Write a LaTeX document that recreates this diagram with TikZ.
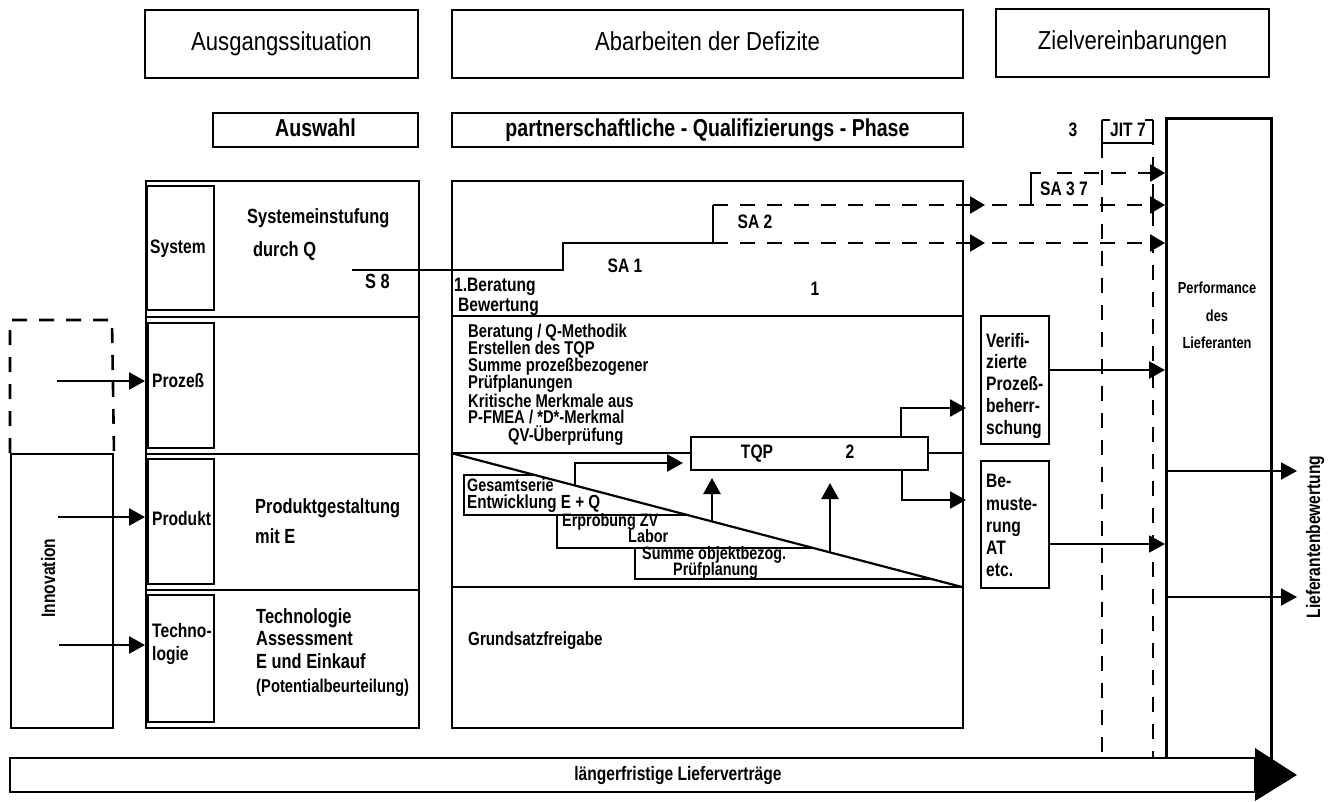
\documentclass[tikz,border=0pt]{standalone}
\usepackage{fontspec}
\setmainfont{Liberation Sans}[FakeStretch=0.85, BoldFeatures={FakeStretch=0.8}]
\usetikzlibrary{arrows.meta}

\begin{document}
\begin{tikzpicture}[x=1pt,y=-1pt,
  frame/.style={draw, line width=2pt, inner sep=0pt, anchor=north west},
  heavy/.style={draw, line width=3pt, inner sep=0pt, anchor=north west},
  rule/.style={line width=2pt},
  hd/.style={font=\fontsize{26}{30}\selectfont},
  sub/.style={font=\bfseries\fontsize{24.5}{28}\selectfont},
  tx/.style={font=\bfseries\fontsize{19.5}{22}\selectfont, inner sep=0pt, text height=14pt, text depth=4pt},
  tb/.style={font=\bfseries\fontsize{20.5}{23}\selectfont, inner sep=0pt, text height=14.5pt, text depth=4pt, anchor=west},
  sm/.style={font=\bfseries\fontsize{18.5}{16.7}\selectfont, inner sep=0pt, text height=13pt, text depth=3.5pt, anchor=west},
  st/.style={font=\bfseries\fontsize{18}{16}\selectfont, inner sep=0pt, text height=12.5pt, text depth=3.5pt, anchor=west},
  pf/.style={font=\bfseries\fontsize{16}{19}\selectfont, inner sep=0pt},
  lw/.style={tx, anchor=west},
  flow/.style={line width=2.6pt, -{Triangle[length=16pt,width=17pt]}},
  thinflow/.style={line width=1.8pt, -{Triangle[length=16pt,width=17pt]}},
  stepline/.style={line width=2.8pt},
  dashline/.style={line width=2.6pt, dash pattern=on 15pt off 12pt},
  dashflow/.style={dashline, -{Triangle[length=15pt,width=17pt]}},
  stair/.style={line width=2.4pt}
]
\useasboundingbox (0,0) rectangle (1328,801);

% ---------- column headers ----------
\node[frame, hd, minimum width=273, minimum height=68] (hAus) at (144,9) {Ausgangssituation};
\node[frame, hd, minimum width=511, minimum height=68] (hAbar) at (451,9) {\vphantom{Ag}Abarbeiten der Defizite};
\node[frame, hd, minimum width=273, minimum height=68] (hZiel) at (995,8) {Zielvereinbarungen};
\node[frame, sub, minimum width=205, minimum height=34] (sAus) at (212,112) {\vphantom{Ag}Auswahl};
\node[frame, sub, minimum width=511, minimum height=34] (sPart) at (451,112) {partnerschaftliche - Qualifizierungs - Phase};

% ---------- left column: Auswahl ----------
\node[frame, minimum width=273, minimum height=136] (rSys) at (145,180) {};
\node[frame, minimum width=273, minimum height=137] (rPro) at (145,316) {};
\node[frame, minimum width=273, minimum height=136] (rPrd) at (145,453) {};
\node[frame, minimum width=273, minimum height=138] (rTec) at (145,589) {};

\node[frame, minimum width=67, minimum height=124] (bSys) at (146,185) {};
\node[frame, minimum width=66, minimum height=125] (bPro) at (147,322) {};
\node[frame, minimum width=66, minimum height=125] (bPrd) at (147,458) {};
\node[frame, minimum width=66, minimum height=127] (bTec) at (147,594) {};

\node[lw] (tSys) at (150,248) {System};
\node[lw] (tPro) at (152,382) {Prozeß};
\node[lw] (tPrd) at (152,520) {Produkt};
\node[lw] (tTec1) at (152,632) {Techno-};
\node[lw] (tTec2) at (152,655) {logie};

\node[tb] (tSe) at (247,218) {Systemeinstufung};
\node[tb] (tDq) at (253,251) {durch Q};
\node[tb] (tS8) at (365,283) {S 8};
\node[tb] (tPg) at (255,508) {Produktgestaltung};
\node[tb] (tMe) at (255,538) {mit E};
\node[tb] (tTa) at (256,618) {Technologie};
\node[tb] (tTb) at (256,640) {Assessment};
\node[tb] (tTc) at (256,663) {E und Einkauf};
\node[tb, font=\bfseries\fontsize{18.5}{20}\selectfont] (tTd) at (256,687) {(Potentialbeurteilung)};

% ---------- Innovation ----------
\node[frame, minimum width=102, minimum height=274] (inno) at (10,453) {};
\node[tx, rotate=90] (tInno) at (50,578) {Innovation};
\draw[dashline] (inno.north west) -- ++(0,-133) coordinate (dTL) -- ++(102,0) -- (inno.north east);
\coordinate (iPro) at (57,381);
\coordinate (iPrd) at (58,517);
\coordinate (iTec) at (59,645);
\draw[flow] (iPro) -- (rPro.west |- iPro);
\draw[flow] (iPrd) -- (rPrd.west |- iPrd);
\draw[flow] (iTec) -- (rTec.west |- iTec);

% ---------- middle column ----------
\node[frame, minimum width=511, minimum height=547] (mid) at (451,180) {};
\draw[rule] (451,316) -- (962,316);
\node[frame, minimum width=237, minimum height=33] (tqp) at (690,436) {};
\node[tx] (tTqp) at (757,453) {TQP};
\node[tx] (tTwo) at (850,453) {2};
\draw[rule] (451,453) -- (tqp.west |- 0,453);
\draw[rule] (tqp.east |- 0,453) -- (962,453);
\draw[rule] (451,587) -- (962,587);
\coordinate (dA) at (451,453);
\coordinate (dB) at (962,587);
\draw[rule, line width=2.2pt] (dA) -- (dB);

\node[lw] (tBer) at (454,286) {1.Beratung};
\node[lw] (tBew) at (458,306) {Bewertung};
\node[tx] (tSA1) at (625,267) {SA 1};
\node[tx] (tSA2) at (755,223) {SA 2};
\node[tx] (tOne) at (815,290) {1};

\node[sm] (tL1) at (468,333) {Beratung / Q-Methodik};
\node[sm] (tL2) at (468,350) {Erstellen des TQP};
\node[sm] (tL3) at (468,367) {Summe prozeßbezogener};
\node[sm] (tL4) at (468,384) {Prüfplanungen};
\node[sm] (tL5) at (468,403) {Kritische Merkmale aus};
\node[sm] (tL6) at (468,419) {P-FMEA / *D*-Merkmal};
\node[sm] (tQV) at (508,437) {QV-Überprüfung};

% stair boxes under the diagonal
\draw[stair] (535,475) -- (464,475) -- (464,515) -- (688,515);
\draw[stair] (557,515) -- (557,548) -- (813,548);
\draw[stair] (635,548) -- (635,579) -- (931,579);
\node[st] (tGes) at (467,487) {Gesamtserie};
\node[st, font=\bfseries\fontsize{19}{16}\selectfont] (tEnt) at (467,504) {Entwicklung E + Q};
\node[st] (tErp) at (562,522) {Erprobung ZV};
\node[st] (tLab) at (628,538) {Labor};
\node[st] (tSum) at (642,555) {Summe objektbezog.};
\node[st] (tPrf) at (673,571) {Prüfplanung};

\node[tb, font=\bfseries\fontsize{19}{22}\selectfont] (tGrund) at (468,640) {Grundsatzfreigabe};

% arrows into and out of TQP
\coordinate (a1s) at (575,485);
\coordinate (a1k) at (575,463);
\draw[flow] (a1s) -- (a1k) -- ([xshift=-7pt]tqp.west |- a1k);
\coordinate (u1) at (712,521);
\coordinate (u2) at (830,552);
\draw[flow] (u1) -- ([yshift=-7pt]tqp.south -| u1);
\draw[flow] (u2) -- ([yshift=-12pt]tqp.south -| u2);
\coordinate (o1) at (901,408);
\coordinate (o2) at (902,500);
\draw[flow] (tqp.north -| o1) -- (o1) -- ([xshift=2pt]mid.east |- o1);
\draw[flow] (tqp.south -| o2) -- (o2) -- ([xshift=2pt]mid.east |- o2);

% supplier assessment steps
\coordinate (s0) at (352,270);
\coordinate (s1) at (563,270);
\coordinate (s2) at (563,243);
\coordinate (s3) at (713,243);
\coordinate (s4) at (713,205);
\draw[stepline] (s0) -- (s1) -- (s2) -- (s3) -- (s4);
\coordinate (e1) at (985,205);
\coordinate (e2) at (985,243);
\draw[dashflow] (s4) -- (e1);
\draw[dashflow] (s3) -- (e2);

% ---------- right column ----------
\node[frame, minimum width=68, minimum height=128] (ver) at (980,315) {};
\node[lw] (tV1) at (986,342) {Verifi-};
\node[lw] (tV2) at (986,363) {zierte};
\node[lw] (tV3) at (986,385) {Prozeß-};
\node[lw] (tV4) at (986,407) {beherr-};
\node[lw] (tV5) at (986,429) {schung};
\node[frame, minimum width=68, minimum height=127] (bem) at (980,460) {};
\node[lw] (tB1) at (986,482) {Be-};
\node[lw] (tB2) at (986,505) {muste-};
\node[lw] (tB3) at (986,527) {rung};
\node[lw] (tB4) at (986,549) {AT};
\node[lw] (tB5) at (986,571) {etc.};

\node[heavy, minimum width=105, minimum height=663] (perf) at (1165,117) {};
\node[pf] (tPerf1) at (1217,288) {Performance};
\node[pf] (tPerf2) at (1217,316) {des};
\node[pf] (tPerf3) at (1217,343) {Lieferanten};

\node[tx] (tThree) at (1073,131) {3};
\node[tx] (tJit) at (1128,131) {JIT 7};
\coordinate (j1) at (1102,120);
\coordinate (j2) at (1153,120);
\coordinate (j3) at (1102,143);
\coordinate (j4) at (1153,143);
\draw[line width=2pt] (j1) -- (j3) -- (j4) -- (j2);
\draw[line width=2pt] (j1) -- ++(8,0);
\draw[line width=2pt] (j2) -- ++(-8,0);
\draw[dashline] (j3) -- (1102,780) -- (1153,780) -- (j4);

% dashed continuation to the performance box
\coordinate (f1) at (992,205);
\coordinate (f2) at (992,243);
\coordinate (b0) at (1031,205);
\coordinate (b1) at (1031,173);
\draw[dashflow] (f1) -- (perf.west |- f1);
\draw[dashflow] (f2) -- (perf.west |- f2);
\draw[line width=2.4pt] (b0) -- (b1) -- ++(10,0);
\draw[dashflow] ([xshift=26pt]b1) -- (perf.west |- b1);
\node[lw] (tSA3) at (1040,190) {SA 3 7};

\draw[flow] (ver.east |- 0,370) -- (perf.west |- 0,370);
\draw[thinflow] (bem.east |- 0,544) -- (perf.west |- 0,544);

\coordinate (r1) at (1297,471);
\coordinate (r2) at (1297,597);
\draw[flow, line width=2pt] (perf.west |- r1) -- (r1);
\draw[flow, line width=2pt] (perf.west |- r2) -- (r2);
\node[tx, rotate=90] (tLB) at (1315,537) {Lieferantenbewertung};

% ---------- long-term contracts arrow ----------
\draw[line width=2pt, fill=white] (10,758) -- (1255,758) -- (1255,792) -- (10,792) -- cycle;
\fill (1255,748) -- (1297,775) -- (1255,801) -- cycle;
\node[tx] (tLang) at (678,775) {längerfristige Lieferverträge};

\end{tikzpicture}
\end{document}
